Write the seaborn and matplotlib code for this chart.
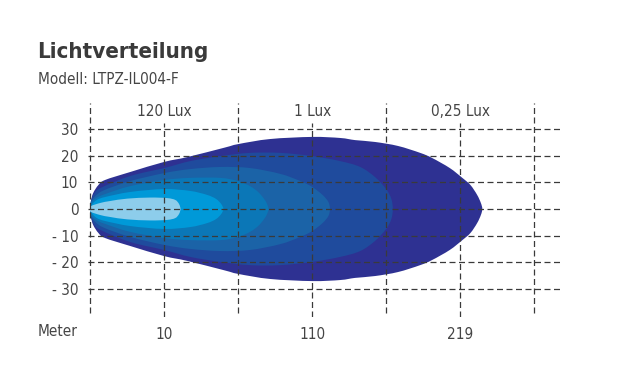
import matplotlib
matplotlib.use("Agg")
import matplotlib.pyplot as plt
from matplotlib.path import Path
from matplotlib.patches import PathPatch
import seaborn as sns

# light distribution layers, outer -> inner
# x in grid steps (0 = left line), h = half height in metres (shapes are symmetric)
outer_x = [0.00, 0.01, 0.04, 0.11, 0.20, 0.54, 1.00, 1.31, 1.82, 2.00, 2.43, 3.00,
           3.38, 3.58, 3.85, 4.16, 4.46, 4.62, 4.86, 5.03, 5.14, 5.23, 5.28, 5.30]
outer_h = [0.0, 3.0, 6.0, 9.0, 10.9, 13.9, 17.7, 19.5, 23.1, 24.4, 26.3, 27.1,
           26.7, 25.9, 25.2, 23.7, 21.1, 19.2, 15.4, 11.7, 9.0, 5.3, 2.3, 0.0]

second_x = [0.00, 0.01, 0.05, 0.14, 0.54, 1.00, 1.35, 1.76, 2.16, 2.57, 3.00,
            3.38, 3.65, 3.85, 4.00, 4.07, 4.09]
second_h = [0.0, 3.0, 5.6, 7.9, 12.4, 15.4, 18.0, 19.9, 21.1, 21.1, 19.9,
            18.0, 15.8, 12.0, 7.5, 3.8, 0.0]

third_x = [0.00, 0.01, 0.07, 0.19, 0.54, 1.00, 1.35, 1.76, 2.16, 2.57, 2.84,
           3.00, 3.14, 3.22, 3.24]
third_h = [0.0, 2.6, 4.9, 7.1, 10.5, 13.5, 15.0, 15.8, 15.4, 13.2, 10.5,
           8.3, 5.3, 2.6, 0.0]

fourth_x = [0.00, 0.01, 0.08, 0.20, 0.54, 1.00, 1.35, 1.76, 2.00, 2.16, 2.27,
            2.35, 2.39, 2.41]
fourth_h = [0.0, 2.3, 4.1, 5.6, 8.6, 10.9, 11.7, 11.7, 10.5, 8.6, 6.4,
            3.8, 1.9, 0.0]

fifth_x = [0.00, 0.03, 0.09, 0.20, 0.54, 1.00, 1.35, 1.58, 1.70, 1.77, 1.80]
fifth_h = [0.0, 1.9, 3.4, 4.5, 6.4, 7.5, 6.8, 5.3, 3.8, 1.9, 0.0]

core_x = [0.00, 0.01, 0.14, 0.27, 0.50, 0.81, 1.04, 1.15, 1.20, 1.22]
core_h = [0.0, 1.1, 2.3, 3.0, 3.9, 4.3, 4.1, 3.4, 1.9, 0.0]

layer_colors = ["#2e3192", "#1f4b9d", "#1b63a7", "#0b77b7", "#0099d8", "#8dcdeb"]

y_ticks = [30, 20, 10, 0, -10, -20, -30]
y_labels = ["30", "20", "10", "0", "- 10", "- 20", "- 30"]
x_label_pos = [1, 3, 5]
meter_labels = ["10", "110", "219"]
lux_labels = ["120 Lux", "1 Lux", "0,25 Lux"]

sns.set_style("white")
plt.rcParams["font.family"] = ["DejaVu Sans"]
plt.rcParams["font.stretch"] = "condensed"
txt = "#454545"
grid_col = "#3a3a3a"
dash = (0, (4.8, 2.8))


def smooth_outline(lx, lh):
    # closed outline through the measured points, drawn as a catmull-rom curve
    pts = list(zip(lx, lh)) + [(x, -h) for x, h in zip(lx[-2:0:-1], lh[-2:0:-1])]
    n = len(pts)
    verts = [pts[0]]
    codes = [Path.MOVETO]
    for i in range(n):
        p0, p1, p2, p3 = pts[i - 1], pts[i], pts[(i + 1) % n], pts[(i + 2) % n]
        c1 = (p1[0] + (p2[0] - p0[0]) / 6, p1[1] + (p2[1] - p0[1]) / 6)
        c2 = (p2[0] - (p3[0] - p1[0]) / 6, p2[1] - (p3[1] - p1[1]) / 6)
        verts += [c1, c2, p2]
        codes += [Path.CURVE4] * 3
    return Path(verts, codes)


fig = plt.figure(figsize=(6.23, 3.85), dpi=100)
W, H = 623, 385
ax = fig.add_axes([88 / W, 1 - 317 / H, (560 - 88) / W, (317 - 103) / H])

layers = [(outer_x, outer_h), (second_x, second_h), (third_x, third_h),
          (fourth_x, fourth_h), (fifth_x, fifth_h), (core_x, core_h)]
for (lx, lh), c in zip(layers, layer_colors):
    ax.add_patch(PathPatch(smooth_outline(lx, lh), facecolor=c, lw=0, zorder=2))

ax.set_xlim(-0.03, 6.35)
ax.set_ylim(-40.6, 39.85)

# dashed grid drawn over the shapes
for y in y_ticks:
    ax.plot([-0.03, 6.35], [y, y], color=grid_col, lw=0.9, ls=dash, zorder=5,
            clip_on=False)
for x in range(7):
    if x in x_label_pos:
        ax.plot([x, x], [-40.6, 32.3], color=grid_col, lw=0.9, ls=dash, zorder=5)
    else:
        ax.plot([x, x], [-39.1, 39.85], color=grid_col, lw=0.9, ls=dash, zorder=5)

ax.set_yticks(y_ticks)
ax.set_yticklabels(y_labels, fontsize=11, color=txt)
ax.tick_params(axis="y", length=0, pad=7)
ax.set_xticks([])
sns.despine(ax=ax, left=True, bottom=True)

for x, lab in zip(x_label_pos, lux_labels):
    ax.text(x, 36.5, lab, ha="center", va="center", fontsize=11, color=txt)
for x, lab in zip(x_label_pos, meter_labels):
    ax.text(x, -47.0, lab, ha="center", va="center", fontsize=11, color=txt)
fig.text(38 / W, 1 - 331 / H, "Meter", ha="left", va="center", fontsize=11, color=txt)

fig.text(37 / W, 1 - 58 / H, "Lichtverteilung", ha="left", va="baseline",
         fontsize=16, fontweight="bold", color="#3a3a3a")
fig.text(38 / W, 1 - 84 / H, "Modell: LTPZ-IL004-F", ha="left", va="baseline",
         fontsize=11, color=txt)

fig.savefig("out.png", dpi=100)
